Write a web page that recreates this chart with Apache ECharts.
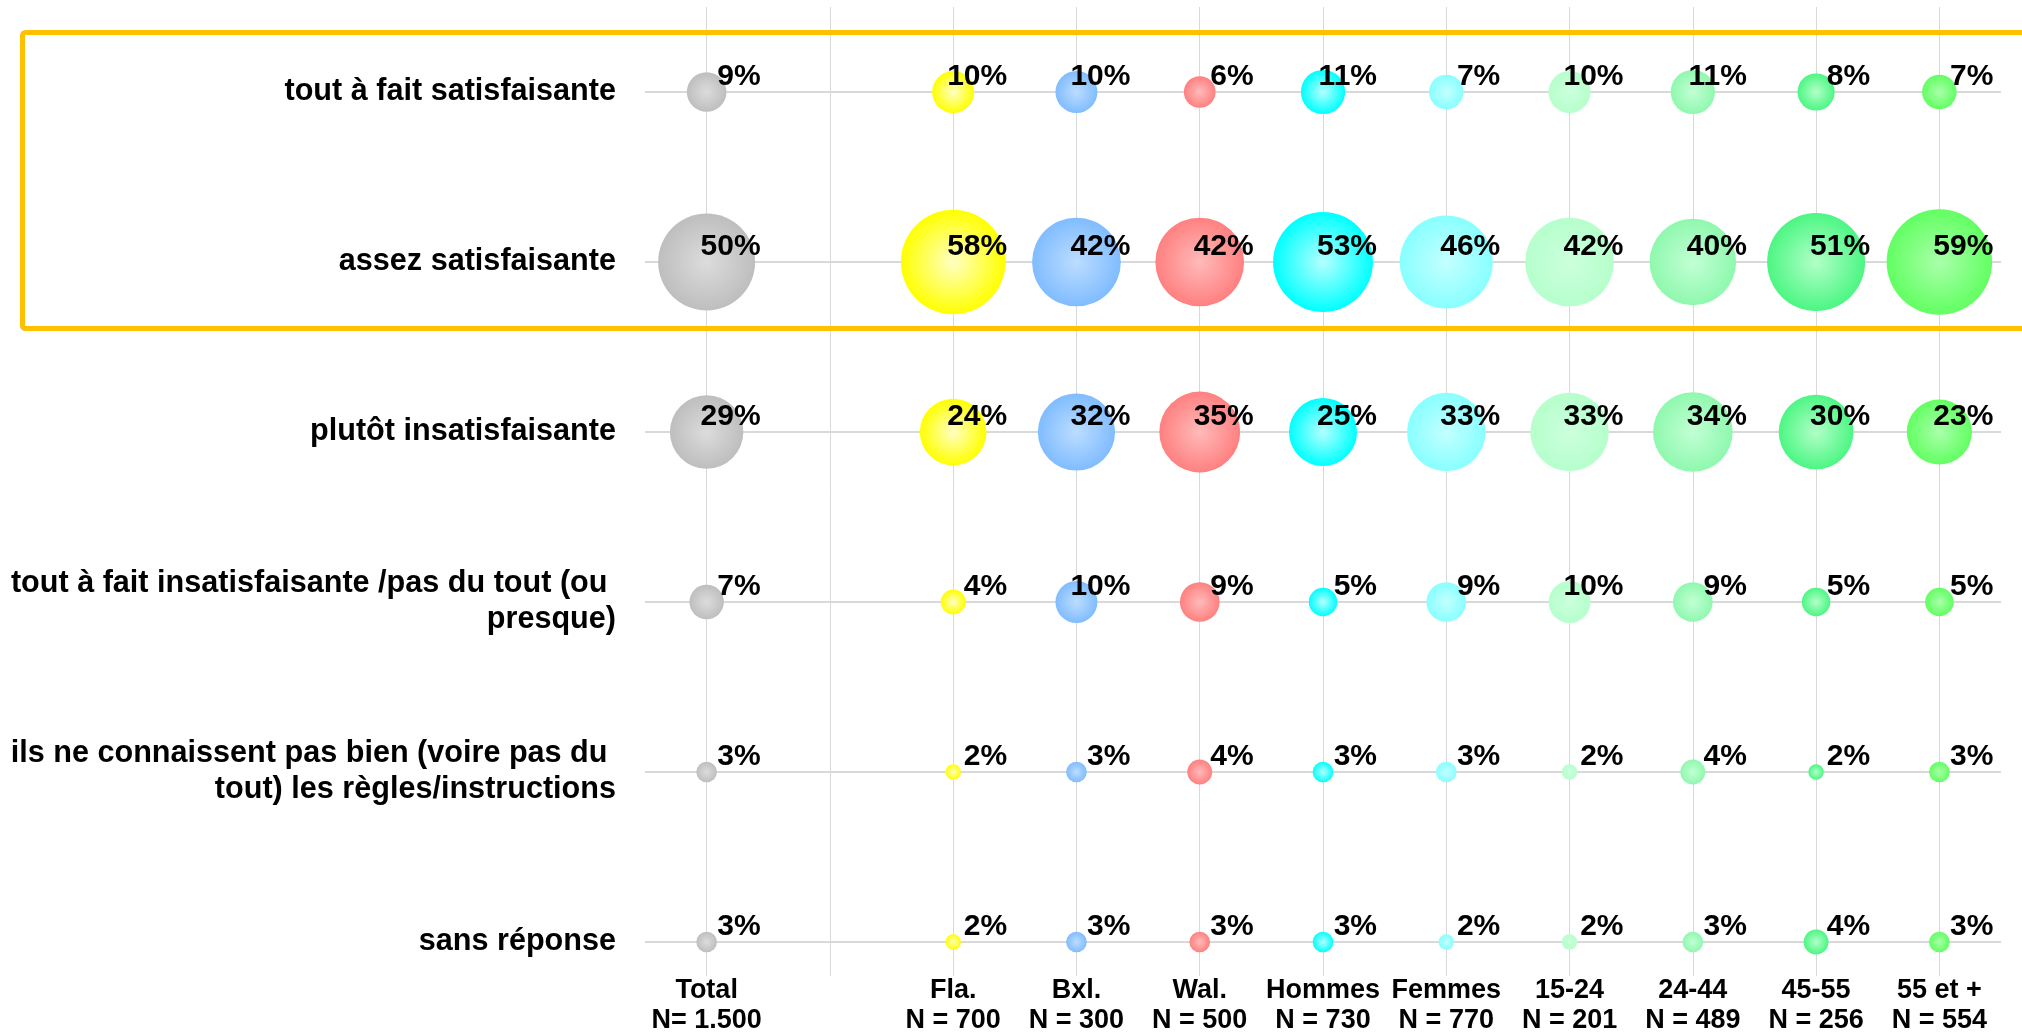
<!DOCTYPE html>
<html>
<head>
<meta charset="utf-8">
<script src="https://cdn.jsdelivr.net/npm/echarts@6/dist/echarts.min.js"></script>
<style>
html,body{margin:0;padding:0;background:#fff;}
#chart{width:2022px;height:1033px;}
</style>
</head>
<body>
<div id="chart"></div>
<script>
// ---- data ----
const rowLabels = [
  'tout à fait satisfaisante',
  'assez satisfaisante',
  'plutôt insatisfaisante',
  'tout à fait insatisfaisante /pas du tout (ou \npresque)',
  'ils ne connaissent pas bien (voire pas du \ntout) les règles/instructions',
  'sans réponse'
];
const columnNames = ['Total', '', 'Fla.', 'Bxl.', 'Wal.', 'Hommes', 'Femmes', '15-24', '24-44', '45-55', '55 et +'];
const columnN = ['N= 1.500', '', 'N = 700', 'N = 300', 'N = 500', 'N = 730', 'N = 770', 'N = 201', 'N = 489', 'N = 256', 'N = 554'];

const totalValues  = [9, 50, 29, 7, 3, 3];
const flaValues    = [10, 58, 24, 4, 2, 2];
const bxlValues    = [10, 42, 32, 10, 3, 3];
const walValues    = [6, 42, 35, 9, 4, 3];
const hommesValues = [11, 53, 25, 5, 3, 3];
const femmesValues = [7, 46, 33, 9, 3, 2];
const age1524Values = [10, 42, 33, 10, 2, 2];
const age2444Values = [11, 40, 34, 9, 4, 3];
const age4555Values = [8, 51, 30, 5, 2, 4];
const age55Values   = [7, 59, 23, 5, 3, 3];

const seriesDefs = [
  {col: 0,  values: totalValues,   edge: '#BEBEBE', center: '#DCDCDC'},
  {col: 2,  values: flaValues,     edge: '#FFFF00', center: '#FFFFC4'},
  {col: 3,  values: bxlValues,     edge: '#80BCFF', center: '#BCDDFF'},
  {col: 4,  values: walValues,     edge: '#FF8080', center: '#FFBABA'},
  {col: 5,  values: hommesValues,  edge: '#00FFFF', center: '#B4FFFF'},
  {col: 6,  values: femmesValues,  edge: '#88FFFF', center: '#C4FFFF'},
  {col: 7,  values: age1524Values, edge: '#B6FFCC', center: '#CCFFDD'},
  {col: 8,  values: age2444Values, edge: '#8FF8AE', center: '#C2FFD4'},
  {col: 9,  values: age4555Values, edge: '#4CF683', center: '#B2FFC8'},
  {col: 10, values: age55Values,   edge: '#62FF62', center: '#AAFFAA'}
];

const FONT = '"Liberation Sans", Arial, sans-serif';
const chart = echarts.init(document.getElementById('chart'), null, {renderer: 'canvas'});

const bubbleSeries = seriesDefs.map(def => ({
  type: 'scatter',
  name: columnNames[def.col],
  z: 3,
  data: def.values.map((v, r) => [def.col, r, v]),
  symbol: 'circle',
  symbolSize: d => Math.sqrt(Math.max(191 * d[2] - 146, 16)),
  itemStyle: {
    color: new echarts.graphic.RadialGradient(0.5, 0.5, 0.5, [
      {offset: 0, color: def.center},
      {offset: 1, color: def.edge}
    ]),
    opacity: 1
  },
  label: {
    show: true,
    position: 'inside',
    align: 'right',
    verticalAlign: 'middle',
    offset: [54, -15],
    formatter: p => p.data[2] + '%',
    fontFamily: FONT,
    fontWeight: 'bold',
    fontSize: 30,
    color: '#000'
  },
  emphasis: {disabled: true},
  animation: false
}));

const gridLineData = [];
rowLabels.forEach((_, i) => gridLineData.push({yAxis: i, lineStyle: {width: 2, color: '#D9D9D9', type: 'solid'}}));
columnNames.forEach((_, i) => gridLineData.push({xAxis: i, lineStyle: {width: 1, color: '#D9D9D9', type: 'solid'}}));

const option = {
  backgroundColor: '#fff',
  animation: false,
  grid: {left: 645, right: 21, top: 7, bottom: 57, containLabel: false, outerBoundsMode: 'none'},
  xAxis: {
    type: 'value',
    min: -0.5, max: 10.5,
    axisLine: {show: false}, axisTick: {show: false}, splitLine: {show: false},
    axisLabel: {
      customValues: columnNames.map((c, i) => i).filter(i => columnNames[i] !== ''),
      formatter: v => columnNames[v] + '\n' + columnN[v],
      fontFamily: FONT, fontWeight: 'bold', fontSize: 27, lineHeight: 30,
      color: '#000', margin: 0
    }
  },
  yAxis: {
    type: 'value',
    inverse: true,
    min: -0.5, max: 5.2,
    axisLine: {show: false}, axisTick: {show: false}, splitLine: {show: false},
    axisLabel: {
      customValues: rowLabels.map((r, i) => i),
      formatter: v => rowLabels[v],
      fontFamily: FONT, fontWeight: 'bold', fontSize: 30.6, lineHeight: 36,
      color: '#000', margin: 29, align: 'right'
    }
  },
  series: [
    {
      type: 'line',
      data: [],
      silent: true,
      markLine: {
        silent: true,
        z: 1,
        symbol: ['none', 'none'],
        label: {show: false},
        animation: false,
        data: gridLineData
      }
    }
  ].concat(bubbleSeries),
  graphic: [{
    type: 'rect',
    z: 100,
    silent: true,
    shape: {x: 22.5, y: 32.5, width: 2030, height: 296, r: 3},
    style: {fill: 'none', stroke: '#FFC000', lineWidth: 5}
  }]
};
chart.setOption(option);
</script>
</body>
</html>
